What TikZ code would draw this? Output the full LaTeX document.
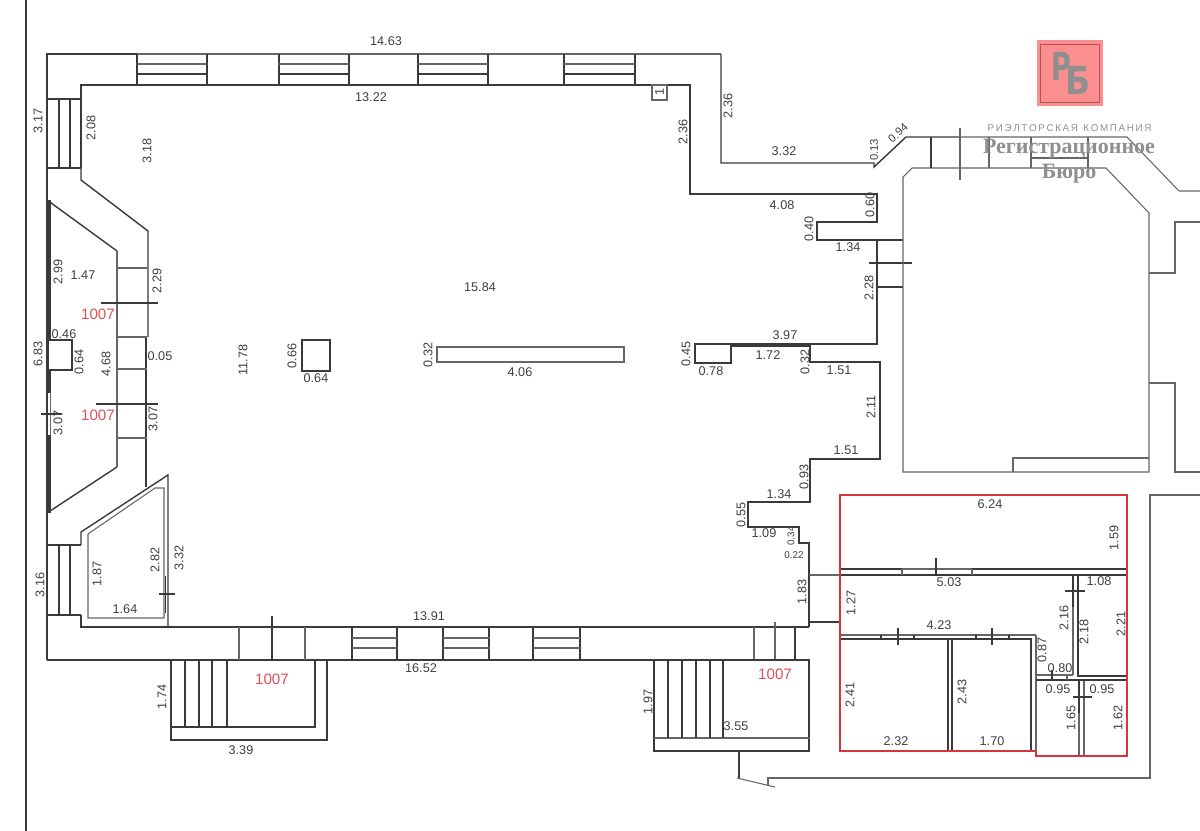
\documentclass[tikz,border=0pt]{standalone}
\usepackage{fontspec}
\setmainfont{Liberation Sans}
\newfontfamily\markfont{Liberation Serif}
\newfontfamily\logofont{DejaVu Sans}
\usepackage{tikz}
\definecolor{wallgray}{HTML}{3A3A3A}
\definecolor{thingray}{HTML}{666666}
\definecolor{planred}{HTML}{D8343C}
\definecolor{logopink}{HTML}{FB8E8E}
\definecolor{markgray}{HTML}{8F8F8F}
\tikzset{
  wall/.style={draw=wallgray,line width=0.8pt},
  heavy/.style={draw=wallgray,line width=1.1pt},
  thin wall/.style={draw=thingray,line width=0.6pt},
  dimtext/.style={font=\fontsize{7.2}{8}\selectfont,text=black!75,inner sep=0pt},
  smalltext/.style={font=\fontsize{5.6}{6}\selectfont,text=black!75,inner sep=0pt},
  redtext/.style={font=\fontsize{8.6}{9}\selectfont,text=planred!85,inner sep=0pt},
}
\begin{document}
\begin{tikzpicture}[x=0.02cm,y=-0.02cm]
      \useasboundingbox (0,0) rectangle (1200,831);
      \fill[white] (0,0) rectangle (1200,831);
      \draw[wall] (26,0) -- (26,831);
      % Outer wall of the hall
      \draw[wall] (47,660) -- (47,54) -- (137,54);
      \draw[thin wall] (137,54) -- (721,54);
      \draw[wall] (721,54) -- (721,163) -- (874,163) -- (874,167) -- (906,137) -- (960,137);
      \draw[thin wall] (960,137) -- (1127,137) -- (1179,191) -- (1200,191);
      \draw[heavy] (47,660) -- (795,660);
      \draw[wall] (81,168) -- (81,85) -- (690,85) -- (690,194) -- (877,194) -- (877,222) -- (817,222) -- (817,240) -- (903,240);
      \draw[wall] (81,168) -- (81,180) -- (148,231) -- (148,337);
      \draw[wall] (146,337) -- (146,487);
      \draw[wall] (47,200) -- (117,251);
      \draw[thin wall] (117,251) -- (117,467);
      \draw[wall] (117,467) -- (47,513);
      % Top wall windows
      \foreach \xa in {137,207,279,349,418,488,564,635}
        \draw[wall] (\xa,54) -- (\xa,85);
      \foreach \xa/\xb in {137/207,279/349,418/488,564/635} {
        \draw[thin wall] (\xa,64) -- (\xb,64);
        \draw[wall] (\xa,74) -- (\xb,74);
      }
      \draw[heavy] (349,85) -- (418,85);
      \draw[heavy] (488,85) -- (564,85);
      % Left wall stairs and piers
      \foreach \ya/\yb in {99/168,545/615} {
        \draw[wall] (47,\ya) -- (81,\ya);
        \draw[wall] (47,\yb) -- (81,\yb);
        \draw[wall] (59,\ya) -- (59,\yb);
        \draw[wall] (70,\ya) -- (70,\yb);
      }
      \foreach \ya in {268,337,369,438}
        \draw[thin wall] (117,\ya) -- (147,\ya);
      \draw[wall] (101,303) -- (158,303);
      \draw[wall] (96,404) -- (158,404);
      \draw[wall,line width=2pt] (49,200) -- (49,340);
      \draw[wall,line width=2pt] (49,370) -- (49,393);
      \draw[wall,line width=2pt] (49,435) -- (49,513);
      \draw[thin wall] (50.5,393) -- (50.5,435);
      \draw[wall] (48,340) rectangle (72,370);
      \draw[wall] (41,414) -- (62,414);
      % Corner store room
      \draw[wall] (81,545) -- (81,532) -- (168,475) -- (168,627);
      \draw[thin wall] (88,534) -- (155,488) -- (164,488) -- (164,618) -- (88,618) -- cycle;
      \draw[heavy] (165.5,576) -- (165.5,613);
      \draw[wall] (159,594) -- (175,594);
      % Bottom wall
      \draw[heavy] (81,615) -- (81,627) -- (809,627);
      \foreach \xa in {352,397,443,489,533,580}
        \draw[wall] (\xa,627) -- (\xa,660);
      \foreach \xa/\xb in {352/397,443/489,533/580} {
        \draw[thin wall] (\xa,638) -- (\xb,638);
        \draw[thin wall] (\xa,648) -- (\xb,648);
      }
      \draw[heavy] (397,660) -- (443,660);
      \draw[thin wall] (239,627) -- (239,660);
      \draw[thin wall] (305,627) -- (305,660);
      \draw[wall] (272,616) -- (272,660);
      \draw[thin wall] (754,627) -- (754,660);
      \draw[wall] (795,627) -- (795,660);
      \draw[thin wall] (775,622) -- (775,660);
      % Left porch
      \draw[heavy] (171,660) -- (171,740) -- (327,740) -- (327,660);
      \draw[wall] (171,727) -- (315,727) -- (315,660);
      \foreach \xa in {185,199,212,227}
        \draw[wall] (\xa,660) -- (\xa,727);
      % Right porch
      \draw[heavy] (654,660) -- (809,660) -- (809,751) -- (654,751) -- cycle;
      \draw[thin wall] (654,738) -- (809,738);
      \foreach \xa in {668,682,696,710,723}
        \draw[wall] (\xa,660) -- (\xa,738);
      % Stepped wall on the right of the hall
      \draw[wall] (877,240) -- (877,344) -- (695,344) -- (695,363) -- (731,363) -- (731,346) -- (810,346) -- (810,362) -- (880,362) -- (880,459) -- (810,459) -- (810,502) -- (748,502) -- (748,527) -- (799,527) -- (799,543) -- (809,543) -- (809,627);
      \draw[wall] (877,287) -- (903,287);
      \draw[wall] (869,263) -- (912,263);
      \draw[thin wall] (809,575) -- (840,575);
      \draw[heavy] (809,622) -- (840,622);
      % Column, bar and shaft
      \draw[wall] (302,340) rectangle (330,371);
      \draw[thin wall] (437,347) rectangle (624,362);
      \draw[thin wall] (652,85) rectangle (667,100);
      % Next building
      \draw[thin wall] (903,472) -- (903,177) -- (912,168) -- (1106,168) -- (1149,213) -- (1149,472) -- cycle;
      \draw[thin wall] (1013,472) -- (1013,458) -- (1149,458);
      \draw[thin wall] (1149,273) -- (1175,273) -- (1175,222) -- (1200,222);
      \draw[thin wall] (1149,383) -- (1175,383) -- (1175,472) -- (1200,472);
      \draw[thin wall] (960,128) -- (960,180);
      \draw[wall] (931,137) -- (931,168);
      \foreach \xa in {989,1031,1088}
        \draw[thin wall] (\xa,137) -- (\xa,168);
      \draw[thin wall] (1031,158) -- (1088,158);
      % Site line
      \draw[thin wall] (1200,495) -- (1150,495) -- (1150,778) -- (768,778) -- (768,785);
      \draw[wall] (739,751) -- (739,778);
      \draw[thin wall] (737,778) -- (775,787);
      % Rooms inside the red outline
      \draw[heavy] (840,569) -- (902,569);
      \draw[heavy] (972,569) -- (1127,569);
      \draw[thin wall] (902,569) -- (972,569);
      \draw[wall] (840,575) -- (1127,575);
      \draw[thin wall] (902,569) -- (902,575);
      \draw[thin wall] (972,569) -- (972,575);
      \draw[wall] (936,558) -- (936,575);
      \draw[thin wall] (840,635) -- (1036,635);
      \draw[wall] (840,639) -- (1031,639) -- (1031,751);
      \draw[thin wall] (1036,635) -- (1036,756);
      \foreach \xa in {881,914,976,1009}
        \draw[wall] (\xa,635) -- (\xa,639);
      \draw[wall] (898,628) -- (898,645);
      \draw[wall] (992,628) -- (992,645);
      \draw[wall] (948,639) -- (948,751);
      \draw[wall] (952,639) -- (952,751);
      \draw[wall] (1073,575) -- (1073,607);
      \draw[thin wall] (1073,607) -- (1073,675);
      \draw[heavy] (1078,575) -- (1078,676) -- (1127,676);
      \draw[wall] (1065,591) -- (1085,591);
      \draw[thin wall] (1036,675) -- (1073,675);
      \draw[wall] (1036,680) -- (1127,680);
      \draw[wall] (1052,670) -- (1052,680);
      \draw[thin wall] (1067,675) -- (1067,680);
      \draw[heavy] (1079,681) -- (1079,713);
      \draw[thin wall] (1079,713) -- (1079,756);
      \draw[thin wall] (1084,681) -- (1084,756);
      \draw[wall] (1073,697) -- (1092,697);
      \draw[planred,line width=1.4pt] (840,495) -- (1127,495) -- (1127,756) -- (1036,756) -- (1036,751) -- (840,751) -- cycle;
      % Dimensions
      \foreach \xa/\ya/\t [count=\i] in {386/41/14.63,371/97/13.22,784/151/3.32,83/275/1.47,64/334/0.46,160/356/0.05,316/378/0.64,520/372/4.06,480/287/15.84,711/371/0.78,785/335/3.97,768/355/1.72,839/370/1.51,846/450/1.51,779/494/1.34,764/533/1.09,896/741/2.32,992/741/1.70,990/504/6.24,949/582/5.03,1099/581/1.08,939/625/4.23,1060/668/0.80,1058/689/0.95,1102/689/0.95,125/609/1.64,429/616/13.91,421/668/16.52,241/750/3.39,736/726/3.55,782/205/4.08,848/247/1.34}
        \node[dimtext] (across\i) at (\xa,\ya) {\t};
      \foreach \xa/\ya/\t [count=\i] in {728/106/2.36,683/132/2.36,38/121/3.17,91/128/2.08,147/151/3.18,58/272/2.99,157/281/2.29,38/354/6.83,79/362/0.64,106/364/4.68,243/360/11.78,292/356/0.66,428/355/0.32,686/354/0.45,805/362/0.32,871/407/2.11,804/477/0.93,741/515/0.55,802/592/1.83,851/603/1.27,850/695/2.41,962/692/2.43,1114/538/1.59,1064/618/2.16,1084/632/2.18,1121/624/2.21,1042/650/0.87,1071/718/1.65,1118/718/1.62,97/574/1.87,155/560/2.82,179/558/3.32,40/585/3.16,58/423/3.07,153/419/3.07,162/697/1.74,648/702/1.97,870/205/0.60,809/229/0.40,869/288/2.28}
        \node[dimtext,rotate=90] (along\i) at (\xa,\ya) {\t};
      \node[smalltext,rotate=90] (shortb) at (791,536) {0.34};
      \node[smalltext] (shortc) at (794,555) {0.22};
      \node[dimtext,font=\fontsize{6.4}{7}\selectfont,rotate=90] (shortd) at (874,150) {0.13};
      \node[dimtext,font=\fontsize{6.4}{7}\selectfont,rotate=42] (slant) at (898,133) {0.94};
      \node[dimtext,rotate=90] (shaftno) at (659.5,92) {1};
      % Section marks
      \foreach \xa/\ya [count=\i] in {98/314,98/415,272/679,775/674}
        \node[redtext] (mark\i) at (\xa,\ya) {1007};
      % Logo of the agency
      \fill[logopink] (1037,40) rectangle (1103,106);
      \draw[planred!60!gray,line width=0.3pt] (1040,44) rectangle (1099,102);
      \node[font=\logofont\bfseries\fontsize{22}{22}\selectfont,text=markgray,inner sep=0pt,xscale=0.7] (logop) at (1061.5,66) {Р};
      \node[font=\logofont\bfseries\fontsize{22}{22}\selectfont,text=markgray,inner sep=0pt,xscale=0.85] (logob) at (1078,80.5) {Б};
      \node[font=\fontsize{5.6}{6}\selectfont,text=markgray,inner sep=0pt] (firm) at (1069.5,128) {Р\,И\,Э\,Л\,Т\,О\,Р\,С\,К\,А\,Я\ \ К\,О\,М\,П\,А\,Н\,И\,Я};
      \node[font=\markfont\bfseries\fontsize{12.5}{14}\selectfont,text=markgray,inner sep=0pt] (firma) at (1069,149) {Регистрационное};
      \node[font=\markfont\bfseries\fontsize{12.5}{14}\selectfont,text=markgray,inner sep=0pt] (firmb) at (1069,174) {Бюро};
    \end{tikzpicture}
\end{document}
